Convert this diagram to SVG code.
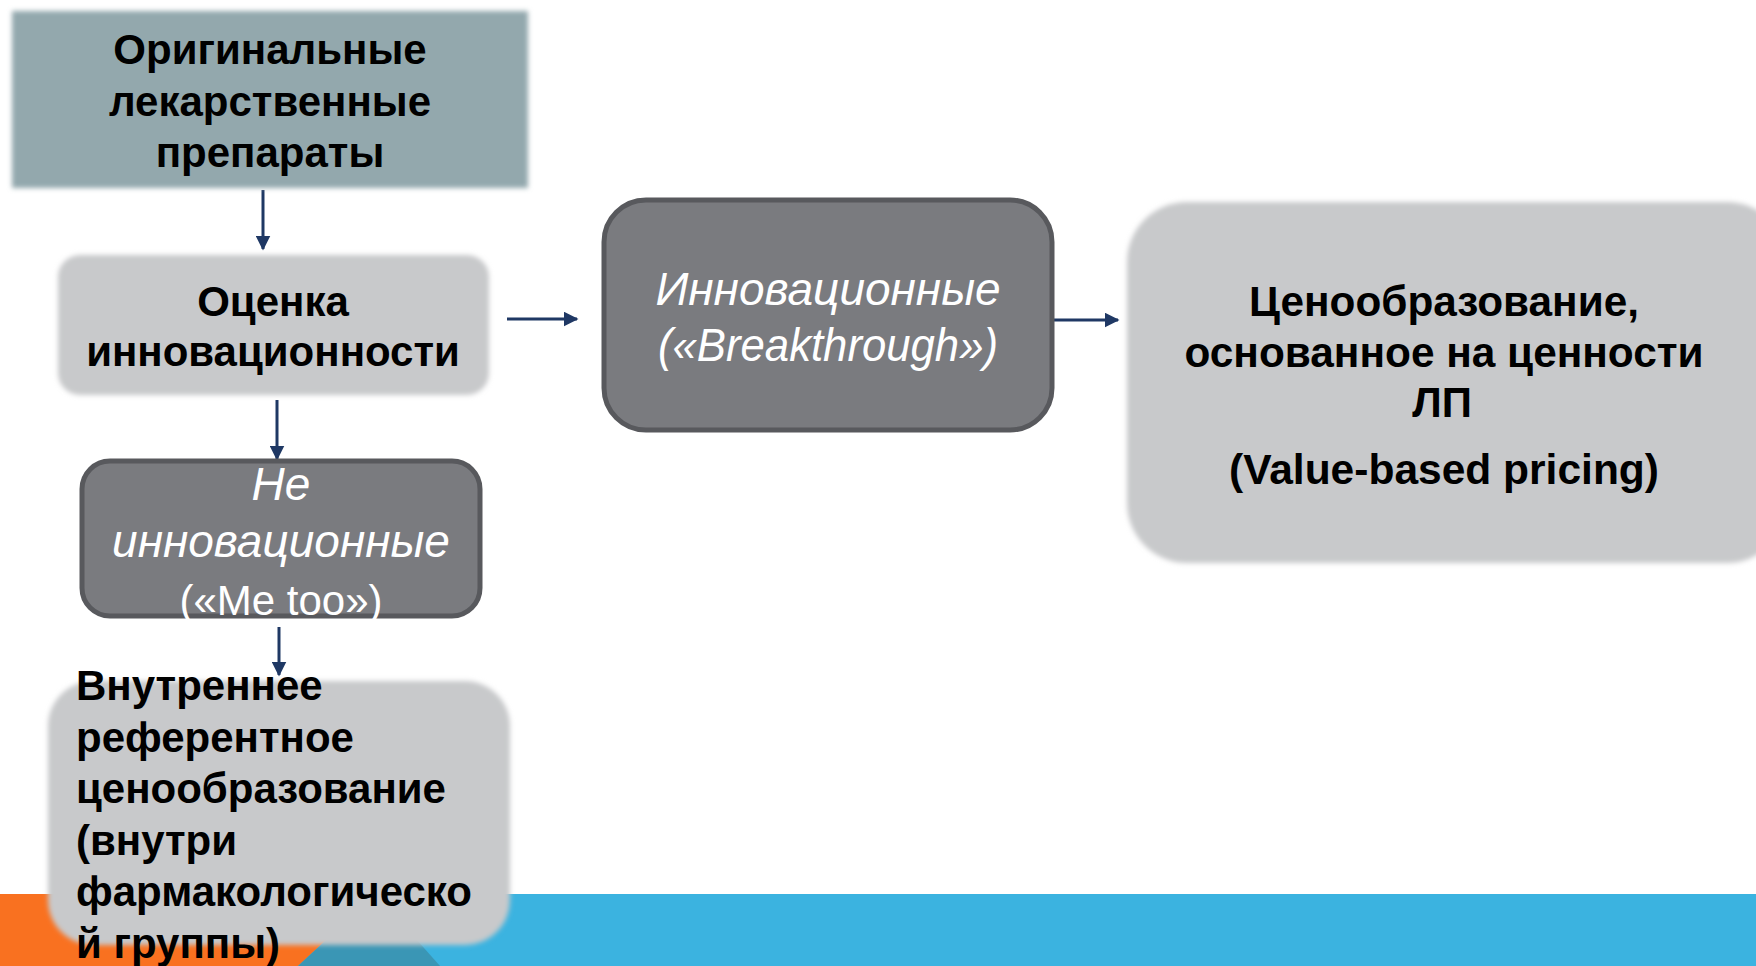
<svg xmlns="http://www.w3.org/2000/svg" width="1756" height="966" viewBox="0 0 1756 966">
<defs>
<style>
.lbl{font-family:"Liberation Sans",Arial,sans-serif;font-weight:bold;fill:#000;font-size:42px}
.wt{font-family:"Liberation Sans",Arial,sans-serif;font-style:italic;fill:#fff;font-size:46px}
.light{fill:#C8C9CB}
.dark{fill:#7A7B7F;stroke:#58595D;stroke-width:5}
.con{stroke:#1F3864;stroke-width:3;fill:none;marker-end:url(#ah)}
</style>
<filter id="soft" x="-5%" y="-5%" width="110%" height="110%"><feGaussianBlur stdDeviation="2.5"/></filter>
<marker id="ah" viewBox="0 0 10 10" refX="9" refY="5" markerWidth="5" markerHeight="5" orient="auto" markerUnits="strokeWidth"><path d="M0,0 L10,5 L0,10 z" fill="#1F3864"/></marker>
</defs>
<rect width="1756" height="966" fill="#fff"/>
<g id="band">
<rect x="0" y="894" width="1756" height="72" fill="#3BB3E0"/>
<polygon points="0,894 376,894 298,966 0,966" fill="#F97120"/>
<polygon points="376,894 440,966 298,966" fill="#3A96B5"/>
</g>
<g id="connectors">
<line class="con" x1="263" y1="190" x2="263" y2="249"/>
<line class="con" x1="507" y1="319" x2="577" y2="319"/>
<line class="con" x1="1048" y1="320" x2="1118" y2="320"/>
<line class="con" x1="277" y1="400" x2="277" y2="459"/>
<line class="con" x1="279" y1="627" x2="279" y2="675"/>
</g>
<g id="n1">
<rect x="12" y="11" width="516" height="177" fill="#93A8AD" filter="url(#soft)"/>
<text class="lbl" text-anchor="middle"><tspan x="270" y="64">Оригинальные</tspan><tspan x="270" y="116">лекарственные</tspan><tspan x="270" y="167">препараты</tspan></text>
</g>
<g id="n2">
<rect class="light" x="58" y="255" width="431" height="140" rx="22" filter="url(#soft)"/>
<text class="lbl" text-anchor="middle"><tspan x="273" y="316">Оценка</tspan><tspan x="273" y="366">инновационности</tspan></text>
</g>
<g id="n3">
<rect class="dark" x="604" y="200" width="448" height="230" rx="42"/>
<text class="wt" text-anchor="middle"><tspan x="828" y="305">Инновационные</tspan><tspan x="828" y="361" textLength="340" lengthAdjust="spacingAndGlyphs">(«Breakthrough»)</tspan></text>
</g>
<g id="n4">
<rect class="dark" x="82" y="461" width="398" height="155" rx="28"/>
<text class="wt" text-anchor="middle"><tspan x="281" y="500">Не</tspan><tspan x="281" y="557">инновационные</tspan></text>
<text x="281" y="615" text-anchor="middle" font-family="'Liberation Sans',Arial,sans-serif" font-size="42" fill="#fff">(«Me too»)</text>
</g>
<g id="n5">
<rect class="light" x="1127" y="202" width="660" height="361" rx="60" filter="url(#soft)"/>
<text class="lbl" text-anchor="middle" font-size="41"><tspan x="1444" y="316" textLength="390" lengthAdjust="spacingAndGlyphs">Ценообразование,</tspan><tspan x="1444" y="367" textLength="519" lengthAdjust="spacingAndGlyphs">основанное на ценности</tspan><tspan x="1442" y="417">ЛП</tspan><tspan x="1444" y="484" textLength="430" lengthAdjust="spacingAndGlyphs">(Value-based pricing)</tspan></text>
</g>
<g id="n6">
<rect class="light" x="48" y="681" width="462" height="264" rx="45" filter="url(#soft)"/>
<text class="lbl"><tspan x="76" y="700">Внутреннее</tspan><tspan x="76" y="752">референтное</tspan><tspan x="76" y="803">ценообразование</tspan><tspan x="76" y="855">(внутри</tspan><tspan x="76" y="906">фармакологическо</tspan><tspan x="76" y="958">й группы)</tspan></text>
</g>
</svg>
